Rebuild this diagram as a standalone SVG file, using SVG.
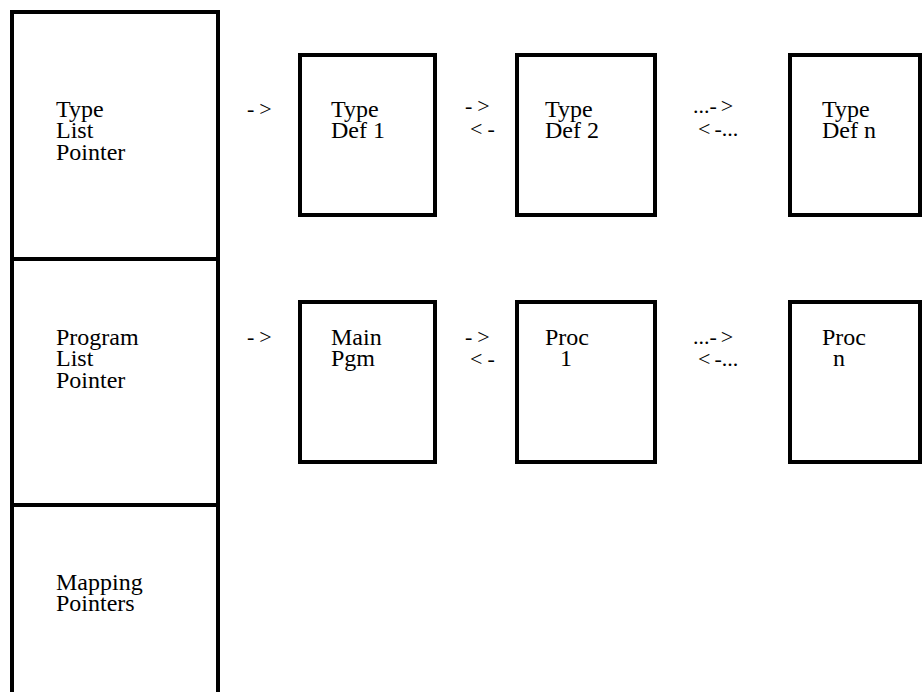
<svg xmlns="http://www.w3.org/2000/svg" width="922" height="692" viewBox="0 0 922 692">
  <style>
    .box { fill: none; stroke: #000; stroke-width: 4; }
    .lbl { font-family: "Liberation Serif", "Times New Roman", serif; font-size: 24px; fill: #000; }
    .ptr { font-family: "Liberation Serif", "Times New Roman", serif; font-size: 22px; fill: #000; }
  </style>
  <rect width="922" height="692" fill="#fff"/>

  <!-- header block: three stacked pointer cells -->
  <g id="type-list-pointer">
    <rect class="box" x="12" y="12" width="206" height="247"/>
    <text class="lbl"><tspan x="56" y="117">Type</tspan><tspan x="56" y="138">List</tspan><tspan x="56" y="160">Pointer</tspan></text>
  </g>
  <g id="program-list-pointer">
    <rect class="box" x="12" y="259" width="206" height="246"/>
    <text class="lbl"><tspan x="56" y="345">Program</tspan><tspan x="56" y="366">List</tspan><tspan x="56" y="388">Pointer</tspan></text>
  </g>
  <g id="mapping-pointers">
    <rect class="box" x="12" y="505" width="206" height="200"/>
    <text class="lbl"><tspan x="56" y="590">Mapping</tspan><tspan x="56" y="611">Pointers</tspan></text>
  </g>

  <!-- type definition list -->
  <g id="type-def-1">
    <rect class="box" x="300" y="55" width="135" height="160"/>
    <text class="lbl"><tspan x="331" y="117">Type</tspan><tspan x="331" y="138">Def 1</tspan></text>
  </g>
  <g id="type-def-2">
    <rect class="box" x="517" y="55" width="138" height="160"/>
    <text class="lbl"><tspan x="545" y="117">Type</tspan><tspan x="545" y="138">Def 2</tspan></text>
  </g>
  <g id="type-def-n">
    <rect class="box" x="790" y="55" width="130" height="160"/>
    <text class="lbl"><tspan x="822" y="117">Type</tspan><tspan x="822" y="138">Def n</tspan></text>
  </g>

  <!-- procedure list -->
  <g id="main-pgm">
    <rect class="box" x="300" y="302" width="135" height="160"/>
    <text class="lbl"><tspan x="331" y="345">Main</tspan><tspan x="331" y="366">Pgm</tspan></text>
  </g>
  <g id="proc-1">
    <rect class="box" x="517" y="302" width="138" height="160"/>
    <text class="lbl"><tspan x="545" y="345">Proc</tspan><tspan x="560" y="366">1</tspan></text>
  </g>
  <g id="proc-n">
    <rect class="box" x="790" y="302" width="130" height="160"/>
    <text class="lbl"><tspan x="822" y="345">Proc</tspan><tspan x="833" y="366">n</tspan></text>
  </g>

  <!-- textual link markers between list entries -->
  <g id="connectors">
    <text class="ptr" x="247" y="116">-<tspan dx="5">&gt;</tspan></text>
    <text class="ptr" x="465" y="113">-<tspan dx="5">&gt;</tspan></text>
    <text class="ptr" x="470" y="136">&lt;<tspan dx="5">-</tspan></text>
    <text class="ptr" x="693" y="113">...-<tspan dx="4">&gt;</tspan></text>
    <text class="ptr" x="698" y="136">&lt;<tspan dx="4">-...</tspan></text>

    <text class="ptr" x="247" y="344">-<tspan dx="5">&gt;</tspan></text>
    <text class="ptr" x="465" y="344">-<tspan dx="5">&gt;</tspan></text>
    <text class="ptr" x="470" y="366">&lt;<tspan dx="5">-</tspan></text>
    <text class="ptr" x="693" y="344">...-<tspan dx="4">&gt;</tspan></text>
    <text class="ptr" x="698" y="366">&lt;<tspan dx="4">-...</tspan></text>
  </g>
</svg>
